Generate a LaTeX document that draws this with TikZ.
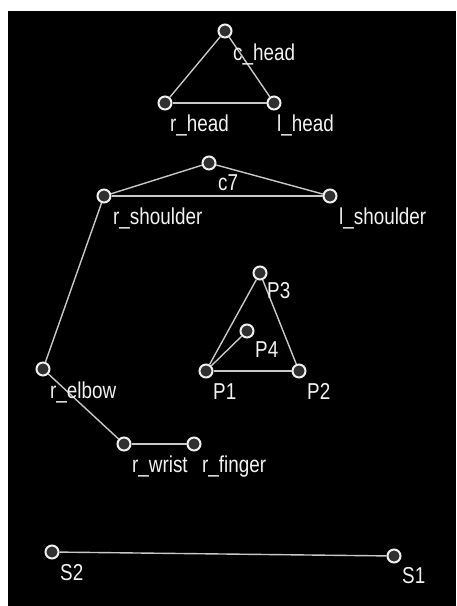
\documentclass[tikz,border=0pt]{standalone}
\usepackage{fontspec}
\newfontfamily\lab[FakeStretch=0.82]{Liberation Sans}
\definecolor{linec}{HTML}{C8C8C8}
\definecolor{dotfill}{HTML}{303030}
\definecolor{dotline}{HTML}{F0F0F0}
\definecolor{txt}{HTML}{F2F2F2}
\begin{document}
\begin{tikzpicture}[x=1pt,y=-1pt,
  pt/.style={circle,draw=dotline,fill=dotfill,line width=2pt,minimum size=13pt,inner sep=0pt},
  lbl/.style={anchor=base west,inner sep=0pt,text=txt,font=\lab\fontsize{23}{23}\selectfont},
  edge/.style={draw=linec,line width=1.4pt}]
\useasboundingbox (0,0) rectangle (456,606);
\fill[white] (0,0) rectangle (456,606);
\fill[black] (8,11) rectangle (456,606);
% points
\node[pt] (chead) at (225,31) {};
\node[pt] (rhead) at (165,103) {};
\node[pt] (lhead) at (274,103) {};
\node[pt] (c7) at (209,163) {};
\node[pt] (rsh) at (104,196) {};
\node[pt] (lsh) at (330,196) {};
\node[pt] (p3) at (260,273) {};
\node[pt] (p4) at (247,331) {};
\node[pt] (p1) at (206,371) {};
\node[pt] (p2) at (299,371) {};
\node[pt] (relb) at (43,369) {};
\node[pt] (rwr) at (124,444) {};
\node[pt] (rfi) at (194,444) {};
\node[pt] (s2) at (52,552) {};
\node[pt] (s1) at (394,556) {};
% edges
\draw[edge] (chead) -- (rhead);
\draw[edge] (chead) -- (lhead);
\draw[edge] (rhead) -- (lhead);
\draw[edge] (c7) -- (rsh);
\draw[edge] (c7) -- (lsh);
\draw[edge] (rsh) -- (lsh);
\draw[edge] (rsh) -- (relb);
\draw[edge] (relb) -- (rwr);
\draw[edge] (rwr) -- (rfi);
\draw[edge] (p1) -- (p2);
\draw[edge] (p1) -- (p3);
\draw[edge] (p2) -- (p3);
\draw[edge] (p1) -- (p4);
\draw[edge] (s2) -- (s1);
% labels
\node[lbl] (tchead) at (233,60) {c\_head};
\node[lbl] (trhead) at (170,131) {r\_head};
\node[lbl] (tlhead) at (277,131) {l\_head};
\node[lbl] (tc7) at (218,190) {c7};
\node[lbl] (trsh) at (113,224) {r\_shoulder};
\node[lbl] (tlsh) at (339,224) {l\_shoulder};
\node[lbl] (tp3) at (267,298) {P3};
\node[lbl] (tp4) at (255,357) {P4};
\node[lbl] (tp1) at (213,399) {P1};
\node[lbl] (tp2) at (307,399) {P2};
\node[lbl] (trelb) at (50,398) {r\_elbow};
\node[lbl] (trwr) at (132,472) {r\_wrist};
\node[lbl] (trfi) at (202,472) {r\_finger};
\node[lbl] (ts2) at (60,580) {S2};
\node[lbl] (ts1) at (402,583) {S1};
\end{tikzpicture}
\end{document}
